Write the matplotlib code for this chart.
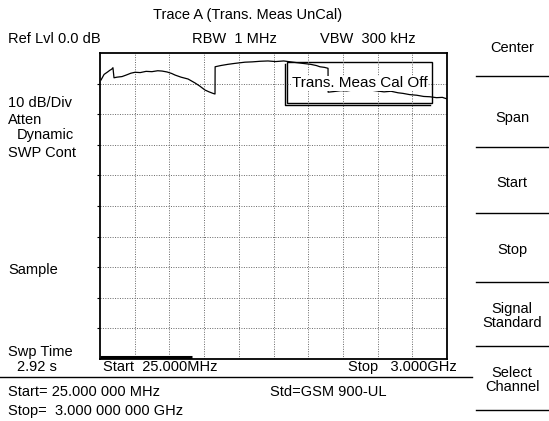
import matplotlib
matplotlib.use('Agg')
import matplotlib.pyplot as plt
from matplotlib.patches import Rectangle

plt.rcParams['font.family'] = ['Liberation Sans', 'DejaVu Sans']

W, H = 549, 421

# trace A, frequency in MHz, level in dB (ref level 0 dB, 10 dB/div)
freq_mhz = [34, 60, 90, 111, 125, 136, 145, 170, 214, 250, 290, 325, 370, 420,
            470, 520, 557, 600, 640, 668, 720, 780, 840, 880, 925, 960, 994, 1011,
            1012, 1060, 1122, 1180, 1268, 1330, 1400, 1465, 1530, 1600, 1680, 1765,
            1830, 1880, 1911, 1950, 1980, 1981, 2030, 2090, 2140, 2194, 2250, 2300,
            2340, 2400, 2460, 2520, 2580, 2623, 2680, 2740, 2800, 2854, 2910, 2960, 3000]
level_db = [-8.8, -7.0, -6.2, -5.6, -5.3, -4.8, -8.1, -7.9, -7.7, -7.2, -6.6, -6.3,
            -6.4, -6.0, -6.1, -5.8, -5.9, -6.2, -6.7, -7.2, -7.9, -8.5, -9.8, -10.8,
            -12.1, -12.7, -13.2, -13.4, -4.5, -4.1, -3.7, -3.4, -3.0, -2.9, -2.7, -2.6,
            -2.8, -2.6, -3.0, -3.4, -3.7, -4.1, -4.5, -4.7, -5.0, -12.8, -12.6, -12.3,
            -12.4, -12.1, -11.9, -12.2, -12.1, -12.4, -12.7, -12.5, -13.0, -13.2,
            -13.6, -13.8, -14.2, -14.3, -14.6, -14.5, -15.0]

start_mhz, stop_mhz = 25, 3000
ref_db, db_div, n_div = 0, 10, 10

left_labels = [('10 dB/Div', 8, 103), ('Atten', 8, 120), ('Dynamic', 17, 135),
               ('SWP Cont', 8, 153), ('Sample', 8, 270), ('Swp Time', 8, 352),
               ('2.92 s', 17, 367)]
menu_labels = [('Center', 48), ('Span', 118), ('Start', 183), ('Stop', 250),
               ('Signal\nStandard', 316), ('Select\nChannel', 380)]
menu_lines = [76, 147, 213, 282, 346, 410]


def px(x, y):
    return x / W, 1 - y / H


fig = plt.figure(figsize=(W / 100, H / 100), dpi=100)
ax = fig.add_axes([100 / W, (H - 359) / H, 347 / W, 306 / H])

ax.plot(freq_mhz, level_db, color='black', lw=0.9)
ax.set_xlim(start_mhz, stop_mhz)
ax.set_ylim(ref_db - db_div * n_div, ref_db)
step = (stop_mhz - start_mhz) / n_div
ax.set_xticks([start_mhz + i * step for i in range(1, n_div)])
ax.set_yticks([ref_db - db_div * i for i in range(1, n_div)])
ax.grid(True, color='#666666', linestyle=(0, (1, 1.5)), lw=0.7)
ax.tick_params(length=2, direction='out', labelbottom=False, labelleft=False)
ax.tick_params(axis='x', length=0)
for s in ax.spines.values():
    s.set_linewidth(1.3)

# sweep progress bar
ax.plot([start_mhz, start_mhz + 2.65 * step], [-99.3, -99.3], color='black', lw=2.2,
        solid_capstyle='butt', clip_on=False)

# calibration warning box with a shadow on the left and bottom
x0 = start_mhz + (287 - 100) / 347 * (stop_mhz - start_mhz)
x1 = start_mhz + (432 - 100) / 347 * (stop_mhz - start_mhz)
y0 = -(103 - 53) / 306 * 100
y1 = -(62 - 53) / 306 * 100
ax.add_patch(Rectangle((x0, y0), x1 - x0, y1 - y0, fill=False, lw=1.0))
ax.plot([x0 - 15, x0 - 15, x1 - 15], [y1 - 0.7, y0 - 0.7, y0 - 0.7], color='black', lw=1.0)
ax.text((x0 + x1) / 2, -9.9, 'Trans. Meas Cal Off', ha='center', va='center',
        fontsize=11, bbox=dict(facecolor='white', edgecolor='none', pad=0.5))

fs = 10.5
fig.text(*px(248, 15), 'Trace A (Trans. Meas UnCal)', ha='center', va='center', fontsize=fs)
fig.text(*px(8, 39), 'Ref Lvl 0.0 dB', va='center', fontsize=fs)
fig.text(*px(192, 39), 'RBW  1 MHz', va='center', fontsize=fs)
fig.text(*px(320, 39), 'VBW  300 kHz', va='center', fontsize=fs)

for txt, x, y in left_labels:
    fig.text(*px(x, y), txt, va='center', fontsize=fs)

for txt, y in menu_labels:
    fig.text(*px(512, y), txt, ha='center', va='center', fontsize=fs, linespacing=0.95)
for y in menu_lines:
    fig.add_artist(plt.Line2D([476 / W, 1.0], [1 - y / H] * 2, color='black', lw=1.0))

fig.text(*px(103, 367), 'Start  25.000MHz', va='center', fontsize=fs)
fig.text(*px(348, 367), 'Stop   3.000GHz', va='center', fontsize=fs)
fig.add_artist(plt.Line2D([0, 472 / W], [1 - 377 / H] * 2, color='black', lw=1.0))
fig.text(*px(8, 392), 'Start= 25.000 000 MHz', va='center', fontsize=fs)
fig.text(*px(270, 392), 'Std=GSM 900-UL', va='center', fontsize=fs)
fig.text(*px(8, 411), 'Stop=  3.000 000 000 GHz', va='center', fontsize=fs)

fig.savefig('out.png', dpi=100)
